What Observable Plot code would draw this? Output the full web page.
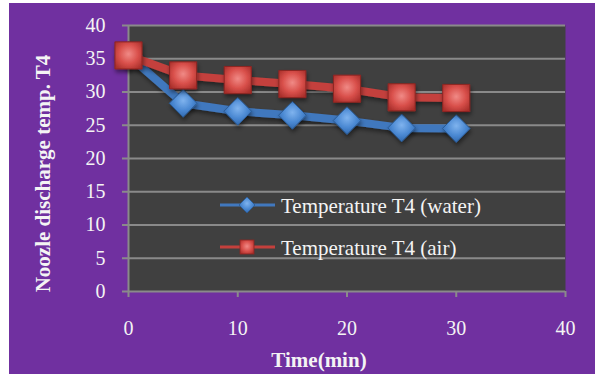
<!DOCTYPE html>
<html><head><meta charset="utf-8">
<script src="https://cdn.jsdelivr.net/npm/d3@7"></script>
<script src="https://cdn.jsdelivr.net/npm/@observablehq/plot@0.6"></script>
<style>
html,body{margin:0;padding:0;background:#fff;width:595px;height:374px;overflow:hidden}
#bg{position:absolute;left:9px;top:3px;right:0;bottom:0;background:#7030A0}
#chart{position:absolute;left:0;top:0}
#legend{position:absolute;left:0;top:0;pointer-events:none}
svg text{font-family:"Liberation Serif","Times New Roman",serif}
</style>
</head><body>
<div id="bg"></div>
<div id="chart"></div>
<script>
const timeMin = [0, 5, 10, 15, 20, 25, 30];
const tempWater = [35.5, 28.3, 27.1, 26.5, 25.7, 24.6, 24.5];
const tempAir = [35.5, 32.5, 31.8, 31.2, 30.5, 29.2, 29.1];
const xTicks = [0, 10, 20, 30, 40];
const yTicks = [0, 5, 10, 15, 20, 25, 30, 35, 40];
const seriesNames = ["Temperature T4 (water)", "Temperature T4 (air)"];
const xTitle = "Time(min)";
const yTitle = "Noozle discharge temp. T4";

const FONT = "Liberation Serif";
const GRID = "#8a8a8a";
const TXT = "#f4f4f4";
const BLUE = "#4178BE";
const RED = "#C4403C";

const rowsWater = timeMin.map((t, i) => ({t, v: tempWater[i]}));
const rowsAir = timeMin.map((t, i) => ({t, v: tempAir[i]}));

const chart = Plot.plot({
  width: 595, height: 374,
  marginLeft: 128, marginRight: 30, marginTop: 25, marginBottom: 83,
  x: {domain: [0, 40]},
  y: {domain: [0, 40]},
  style: {background: "transparent", fontFamily: FONT, fontSize: "20px", color: TXT, overflow: "visible"},
  marks: [
    Plot.frame({fill: "#404040"}),
    Plot.ruleY(yTicks, {stroke: GRID, strokeWidth: 2}),
    Plot.ruleX([0], {stroke: GRID, strokeWidth: 2}),
    Plot.axisY({ticks: yTicks, tickSize: 6, tickPadding: 17, stroke: GRID, strokeWidth: 2, fill: TXT, label: null, fontSize: 20, fontFamily: FONT}),
    Plot.axisX({ticks: xTicks, tickSize: 6, tickPadding: 23, stroke: GRID, strokeWidth: 2, fill: TXT, label: null, fontSize: 20, fontFamily: FONT}),
    Plot.line(rowsWater, {x: "t", y: "v", stroke: BLUE, strokeWidth: 8}),
    Plot.dot(rowsWater, {x: "t", y: "v", symbol: "diamond2", r: 12.5, fill: "url(#gBlue)", stroke: "#2a5a94", strokeWidth: 1}),
    Plot.line(rowsAir, {x: "t", y: "v", stroke: RED, strokeWidth: 8}),
    Plot.dot(rowsAir, {x: "t", y: "v", symbol: "square", r: 15.3, fill: "url(#gRed)", stroke: "#8e2522", strokeWidth: 1}),
    Plot.text([yTitle], {frameAnchor: "left", textAnchor: "middle", rotate: -90, dx: -85, dy: 15, text: d => d, fontWeight: "bold", fontSize: 21, fontFamily: FONT, fill: TXT, lineAnchor: "middle"}),
    Plot.text([xTitle], {frameAnchor: "bottom", textAnchor: "middle", dx: -28, dy: 69, text: d => d, fontWeight: "bold", fontSize: 21, fontFamily: FONT, fill: TXT, lineAnchor: "middle"})
  ]
});

// gradients for 3D-looking markers
const ns = "http://www.w3.org/2000/svg";
const defs = document.createElementNS(ns, "defs");
defs.innerHTML = `
<radialGradient id="gRed" cx="50%" cy="45%" r="65%">
  <stop offset="0%" stop-color="#f08a86"/>
  <stop offset="55%" stop-color="#d9504b"/>
  <stop offset="100%" stop-color="#a92f2b"/>
</radialGradient>
<radialGradient id="gBlue" cx="50%" cy="40%" r="65%">
  <stop offset="0%" stop-color="#7fb3ee"/>
  <stop offset="55%" stop-color="#4a88d2"/>
  <stop offset="100%" stop-color="#2c62a6"/>
</radialGradient>
<filter id="sh" x="-20%" y="-20%" width="140%" height="160%">
  <feDropShadow dx="1" dy="3" stdDeviation="2" flood-color="#000" flood-opacity="0.45"/>
</filter>`;
chart.insertBefore(defs, chart.firstChild);
chart.querySelectorAll('g[aria-label="line"], g[aria-label="dot"]').forEach(g => g.setAttribute("filter", "url(#sh)"));
document.getElementById("chart").appendChild(chart);

// legend (inside plot area)
const leg = document.createElementNS(ns, "svg");
leg.setAttribute("id", "legend");
leg.setAttribute("width", 595);
leg.setAttribute("height", 374);
const items = [
  {name: seriesNames[0], color: BLUE, fill: "url(#gBlue2)", kind: "diamond", y: 205},
  {name: seriesNames[1], color: RED, fill: "url(#gRed2)", kind: "square", y: 247}
];
const defs2 = document.createElementNS(ns, "defs");
defs2.innerHTML = defs.innerHTML.replace(/id="gRed"/, 'id="gRed2"').replace(/id="gBlue"/, 'id="gBlue2"').replace(/id="sh"/, 'id="sh2"');
leg.appendChild(defs2);
items.forEach(it => {
  const g = document.createElementNS(ns, "g");
  let marker;
  if (it.kind === "diamond") {
    marker = `<path d="M247,${it.y-8}L255,${it.y}L247,${it.y+8}L239,${it.y}Z" fill="${it.fill}" stroke="#2a5a94" stroke-width="0.8"/>`;
  } else {
    marker = `<rect x="240" y="${it.y-7}" width="14" height="14" fill="${it.fill}" stroke="#8e2522" stroke-width="0.8"/>`;
  }
  g.innerHTML = `<line x1="220" x2="275" y1="${it.y}" y2="${it.y}" stroke="${it.color}" stroke-width="3"/>${marker}
  <text x="281" y="${it.y + 8}" fill="${TXT}" font-size="21">${it.name}</text>`;
  leg.appendChild(g);
});
document.body.appendChild(leg);
</script>
</body></html>
